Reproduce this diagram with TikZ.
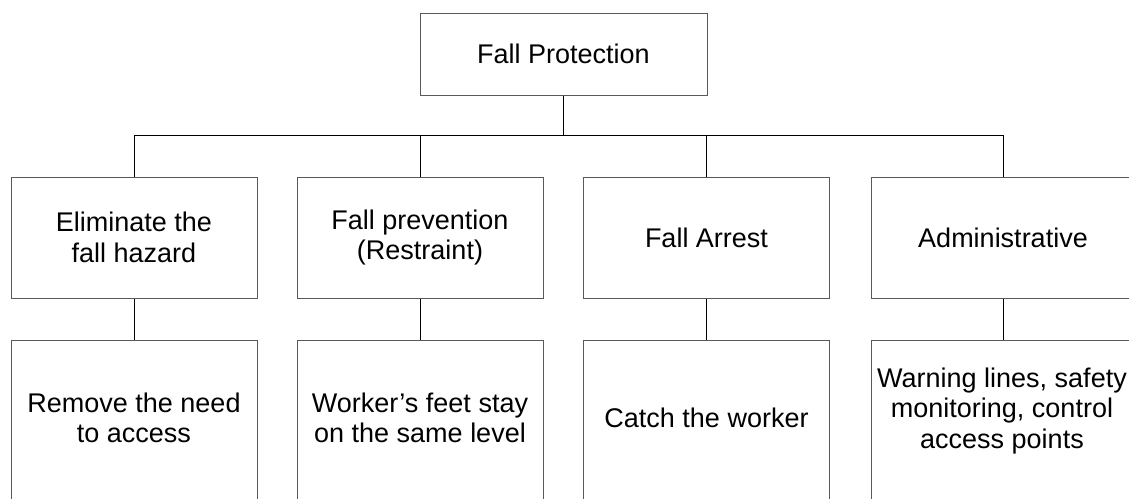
\documentclass[tikz,border=0pt]{standalone}
\usepackage{fontspec}
\setmainfont{Liberation Sans}
\begin{document}
\begin{tikzpicture}[x=1pt,y=1pt,
  box/.style={draw=black!65,line width=1pt,rectangle,inner sep=0pt},
  txt/.style={align=center,font=\fontsize{27}{30.5}\selectfont,inner sep=0pt},
  conn/.style={draw=black,line width=1pt}]
\useasboundingbox (0,0) rectangle (1129,-498);
\clip (0,0) rectangle (1129,-498);
% top
\node[box,minimum width=287pt,minimum height=82pt] (top) at (563.5,-54) {};
\node[txt] (toptxt) at (top.center) {Fall Protection};
% row 1
\node[box,minimum width=246pt,minimum height=121pt] (a1) at (134,-237.5) {};
\node[box,minimum width=246pt,minimum height=121pt] (a2) at (420,-237.5) {};
\node[box,minimum width=246pt,minimum height=121pt] (a3) at (706.5,-237.5) {};
\node[box,minimum width=264pt,minimum height=121pt] (a4) at (1003,-237.5) {};
\node[txt] (ta1) at (a1.center) {Eliminate the\\fall hazard};
\node[txt] (ta2) at (a2.center) {Fall prevention\\(Restraint)};
\node[txt] (ta3) at (a3.center) {Fall Arrest};
\node[txt] (ta4) at (a4.center) {Administrative};
% row 2
\node[box,minimum width=246pt,minimum height=180pt] (b1) at (134,-430) {};
\node[box,minimum width=246pt,minimum height=180pt] (b2) at (420,-430) {};
\node[box,minimum width=246pt,minimum height=180pt] (b3) at (706.5,-430) {};
\node[box,minimum width=264pt,minimum height=180pt] (b4) at (1003,-430) {};
\node[txt] (tb1) at (134,-418) {Remove the need\\to access};
\node[txt] (tb2) at (420,-418) {Worker’s feet stay\\on the same level};
\node[txt] (tb3) at (706.5,-418) {Catch the worker};
\node[txt] (tb4) at (1002,-411) {Warning lines, safety\\monitoring, control\\access points};
% connectors
\coordinate (bus) at (563.5,-135.5);
\draw[conn] (top.south) -- (bus);
\draw[conn] (a1.north) |- (bus) -| (a4.north);
\draw[conn] (a2.north) -- (a2.north |- bus);
\draw[conn] (a3.north) -- (a3.north |- bus);
\draw[conn] (a1.south) -- (b1.north);
\draw[conn] (a2.south) -- (b2.north);
\draw[conn] (a3.south) -- (b3.north);
\draw[conn] (a4.south) -- (b4.north);
\end{tikzpicture}
\end{document}
